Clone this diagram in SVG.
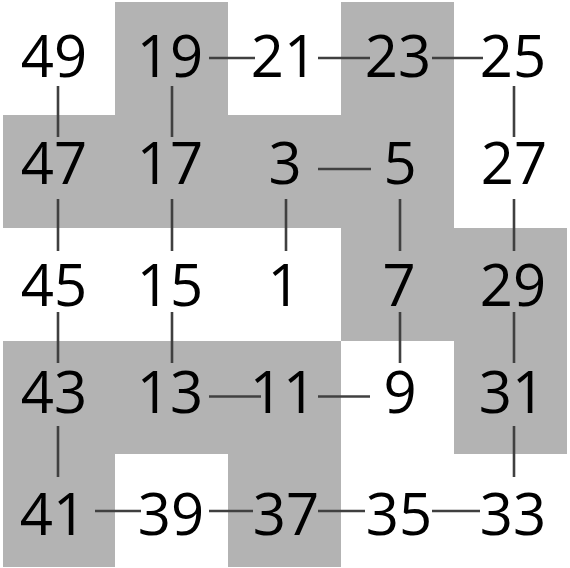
<svg xmlns="http://www.w3.org/2000/svg" width="570" height="568" viewBox="0 0 570 568">
<style>
.bg{fill:#b3b3b3}
.n text{font-family:"Open Sans","Noto Sans","DejaVu Sans",sans-serif;font-size:58px;fill:#000;text-anchor:middle}
.e line{stroke:#404040;stroke-width:2.6}
</style>
<rect x="0" y="0" width="570" height="568" fill="#fff"/>
<g id="board">
<path class="bg" d="M115,2H228V115H115Z M341,2H454V115H341Z M3,115H454V228H3Z M341,228H567V341H341Z M3,341H341V454H3Z M454,341H567V454H454Z M3,454H115V567H3Z M228,454H341V567H228Z"/>
</g>
<g id="connectors" class="e">
<line x1="209" y1="58" x2="255" y2="58"/>
<line x1="318" y1="58" x2="370" y2="58"/>
<line x1="432" y1="58" x2="483" y2="58"/>
<line x1="318" y1="169" x2="371" y2="169"/>
<line x1="209" y1="396.5" x2="261" y2="396.5"/>
<line x1="318" y1="396.5" x2="370" y2="396.5"/>
<line x1="95" y1="511" x2="141" y2="511"/>
<line x1="209" y1="511" x2="253" y2="511"/>
<line x1="318" y1="511" x2="365" y2="511"/>
<line x1="432" y1="511" x2="480" y2="511"/>
<line x1="58" y1="86" x2="58" y2="137"/>
<line x1="58" y1="199" x2="58" y2="251"/>
<line x1="58" y1="312" x2="58" y2="363"/>
<line x1="58" y1="426" x2="58" y2="477"/>
<line x1="172" y1="86" x2="172" y2="137"/>
<line x1="172" y1="199" x2="172" y2="251"/>
<line x1="172" y1="312" x2="172" y2="363"/>
<line x1="286" y1="199" x2="286" y2="251"/>
<line x1="400" y1="199" x2="400" y2="251"/>
<line x1="400" y1="312" x2="400" y2="363"/>
<line x1="514" y1="86" x2="514" y2="137"/>
<line x1="514" y1="199" x2="514" y2="251"/>
<line x1="514" y1="312" x2="514" y2="363"/>
<line x1="514" y1="426" x2="514" y2="477"/>
</g>
<g class="n">
<g id="n49"><text x="54" y="77">49</text></g>
<g id="n19"><text x="170" y="77">19</text></g>
<g id="n21"><text x="284" y="77">21</text></g>
<g id="n23"><text x="398" y="77">23</text></g>
<g id="n25"><text x="513" y="77">25</text></g>
<g id="n47"><text x="54" y="184">47</text></g>
<g id="n17"><text x="170" y="184">17</text></g>
<g id="n3"><text x="285" y="184">3</text></g>
<g id="n5"><text x="400" y="184">5</text></g>
<g id="n27"><text x="514" y="184">27</text></g>
<g id="n45"><text x="54" y="305.5">45</text></g>
<g id="n15"><text x="170" y="305.5">15</text></g>
<g id="n1"><text x="284" y="305.5">1</text></g>
<g id="n7"><text x="399" y="305.5">7</text></g>
<g id="n29"><text x="513" y="305.5">29</text></g>
<g id="n43"><text x="54" y="413">43</text></g>
<g id="n13"><text x="170" y="413">13</text></g>
<g id="n11"><text x="283" y="413">11</text></g>
<g id="n9"><text x="400" y="413">9</text></g>
<g id="n31"><text x="512" y="413">31</text></g>
<g id="n41"><text x="53" y="534.5">41</text></g>
<g id="n39"><text x="171" y="534.5">39</text></g>
<g id="n37"><text x="286" y="534.5">37</text></g>
<g id="n35"><text x="399" y="534.5">35</text></g>
<g id="n33"><text x="513" y="534.5">33</text></g>
</g>
</svg>
